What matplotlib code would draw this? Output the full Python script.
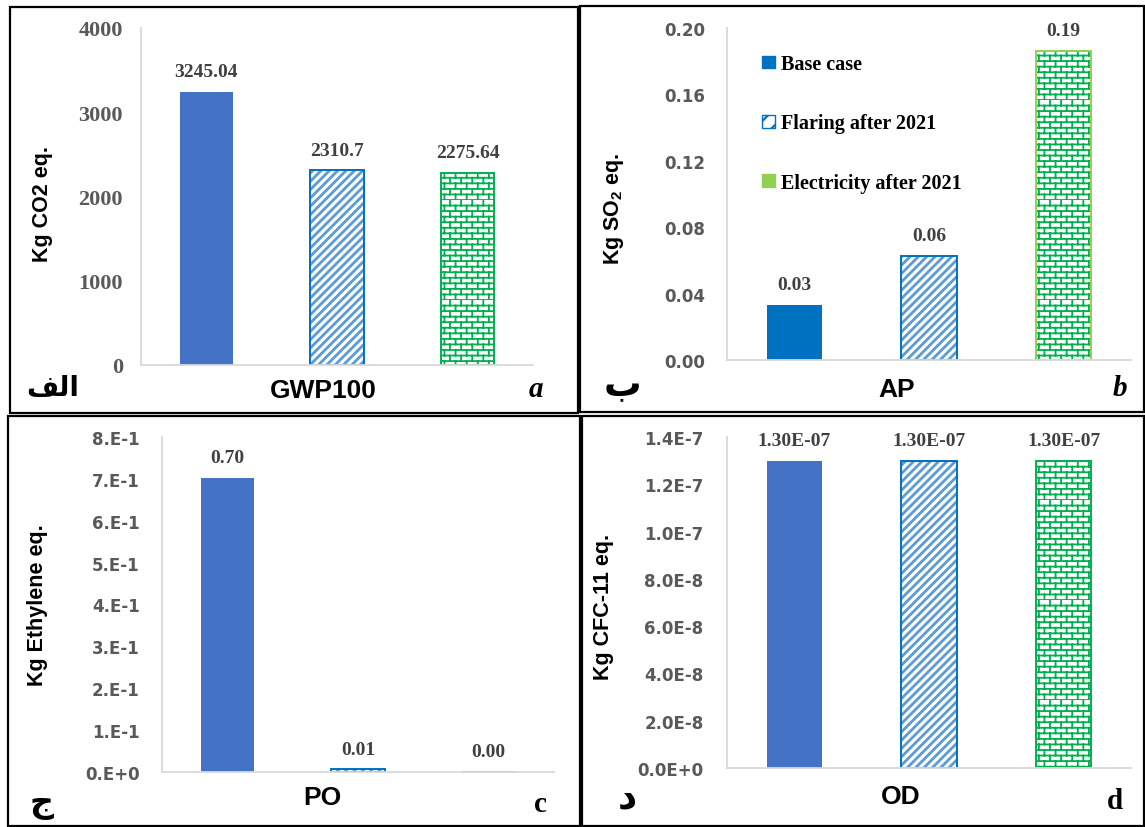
import warnings
import numpy as np
import matplotlib
matplotlib.use('Agg')
import matplotlib.pyplot as plt
from matplotlib import hatch as mhatch
from matplotlib.patches import Rectangle, Patch
from matplotlib.path import Path

warnings.filterwarnings('ignore')

# ---- data ----
scenarios = ['Base case', 'Flaring after 2021', 'Electricity after 2021']

gwp_values = [3245.04, 2310.7, 2275.64]
gwp_labels = ['3245.04', '2310.7', '2275.64']
gwp_ticks = [0, 1000, 2000, 3000, 4000]
gwp_ticklabels = ['0', '1000', '2000', '3000', '4000']

ap_values = [0.033, 0.0625, 0.186]
ap_labels = ['0.03', '0.06', '0.19']
ap_ticks = [0.00, 0.04, 0.08, 0.12, 0.16, 0.20]
ap_ticklabels = ['0.00', '0.04', '0.08', '0.12', '0.16', '0.20']

po_values = [0.702, 0.006, 0.0004]
po_labels = ['0.70', '0.01', '0.00']
po_ticks = [0.0, 0.1, 0.2, 0.3, 0.4, 0.5, 0.6, 0.7, 0.8]
po_ticklabels = ['0.E+0', '1.E-1', '2.E-1', '3.E-1', '4.E-1',
                 '5.E-1', '6.E-1', '7.E-1', '8.E-1']

od_values = [1.30e-7, 1.30e-7, 1.30e-7]
od_labels = ['1.30E-07', '1.30E-07', '1.30E-07']
od_ticks = [0, 2e-8, 4e-8, 6e-8, 8e-8, 1.0e-7, 1.2e-7, 1.4e-7]
od_ticklabels = ['0.0E+0', '2.0E-8', '4.0E-8', '6.0E-8', '8.0E-8',
                 '1.0E-7', '1.2E-7', '1.4E-7']


# brick hatch ('b'), like the Excel brick fill
class BrickHatch(mhatch.HatchPatternBase):
    def __init__(self, hatch, density):
        self.rows = 18 if 'b' in hatch else 0
        self.cols = 9
        self.num_vertices = self.rows * (1 + self.cols) * 2

    def set_vertices_and_codes(self, vertices, codes):
        segs = []
        for k in range(self.rows):
            y0 = k / self.rows
            y1 = (k + 1) / self.rows
            segs.append(((0, y0), (1, y0)))
            shift = 0.5 / self.cols if k % 2 else 0.0
            for j in range(self.cols):
                xv = j / self.cols + shift
                segs.append(((xv, y0), (xv, y1)))
        vertices[:] = np.array(segs, dtype=float).reshape(-1, 2)
        codes[0::2] = Path.MOVETO
        codes[1::2] = Path.LINETO


mhatch._hatch_types.append(BrickHatch)

plt.rcParams['hatch.linewidth'] = 1.6
plt.rcParams['mathtext.fontset'] = 'custom'
plt.rcParams['mathtext.rm'] = 'Liberation Sans:bold'

W, H = 1145, 828
fig = plt.figure(figsize=(W / 100, H / 100), dpi=100)


def fx(px):
    return px / W


def fy(py):
    return 1 - py / H


SERIF = 'Liberation Serif'
SANS = 'Liberation Sans'
FLARE_HATCH = '#5B9BD5'
FLARE_EDGE = '#0070C0'
ELEC = '#00B050'
BW = 0.41


def hatch_lw(bars, lw):
    for b in bars:
        if hasattr(b, 'set_hatch_linewidth'):
            b.set_hatch_linewidth(lw)


def draw_panel(box, values, labels, ticks, ticklabels, ylabel, ylab_x, ylab_y,
               base_color, elec_edge, tick_font, tick_size, tick_pad):
    x0, y0, x1, y1 = box
    ax = fig.add_axes([fx(x0), fy(y1), fx(x1) - fx(x0), fy(y0) - fy(y1)])
    x = np.arange(3)
    ax.bar(x[0], values[0], width=BW, color=base_color, linewidth=0)
    fl = ax.bar(x[1], values[1], width=BW, facecolor='white',
                edgecolor=FLARE_HATCH, hatch='////', linewidth=0)
    hatch_lw(fl, 2.0)
    ax.bar(x[1], values[1], width=BW, facecolor='none', edgecolor=FLARE_EDGE,
           linewidth=1.4)
    el = ax.bar(x[2], values[2], width=BW, facecolor='white', edgecolor=ELEC,
                hatch='b', linewidth=0)
    hatch_lw(el, 1.3)
    ax.bar(x[2], values[2], width=BW, facecolor='none', edgecolor=elec_edge,
           linewidth=1.4)
    for xi, v, lbl in zip(x, values, labels):
        ax.annotate(lbl, (xi, v), xytext=(0, 8.5), textcoords='offset points',
                    ha='center', va='bottom', fontfamily=SERIF,
                    fontweight='bold', fontsize=14, color='#404040')
    ax.set_xlim(-0.5, 2.5)
    ax.set_ylim(0, ticks[-1])
    ax.set_xticks([])
    ax.set_yticks(ticks)
    ax.set_yticklabels(ticklabels, fontfamily=tick_font, fontweight='bold',
                       fontsize=tick_size, color='#595959')
    ax.tick_params(axis='y', length=0, pad=tick_pad)
    for s in ['top', 'right']:
        ax.spines[s].set_visible(False)
    for s in ['left', 'bottom']:
        ax.spines[s].set_color('#D9D9D9')
        ax.spines[s].set_linewidth(1.3)
    ax.set_ylabel(ylabel, fontfamily=SANS, fontweight='bold', fontsize=15.5,
                  color='black')
    ax.yaxis.set_label_coords(ylab_x, ylab_y)
    return ax


draw_panel((141, 29, 533, 366), gwp_values, gwp_labels, gwp_ticks,
           gwp_ticklabels, 'Kg CO2 eq.', -0.225, 0.48,
           '#4472C4', ELEC, SERIF, 16, 13)
ax_b = draw_panel((727, 29, 1131, 361), ap_values, ap_labels, ap_ticks,
                  ap_ticklabels, 'Kg SO$_\\mathrm{2}$ eq.', -0.25, 0.46,
                  '#0070C0', '#92D050', 'DejaVu Sans', 12, 16)
draw_panel((162, 438, 554, 773), po_values, po_labels, po_ticks,
           po_ticklabels, 'Kg Ethylene eq.', -0.29, 0.5,
           '#4472C4', ELEC, 'DejaVu Sans', 12, 16)
draw_panel((727, 438, 1131, 769), od_values, od_labels, od_ticks,
           od_ticklabels, 'Kg CFC-11 eq.', -0.28, 0.49,
           '#4472C4', ELEC, 'DejaVu Sans', 12, 17)

# legend in panel b
handles = [Patch(facecolor='#0070C0', edgecolor='#0070C0'),
           Patch(facecolor='white', edgecolor=FLARE_EDGE, hatch='//'),
           Patch(facecolor='#92D050', edgecolor='#92D050')]
ax_b.legend(handles, scenarios, loc='upper left', bbox_to_anchor=(0.043, 0.976),
            frameon=False, handlelength=0.6, handleheight=0.6,
            handletextpad=0.3, labelspacing=1.95,
            prop={'family': SERIF, 'weight': 'bold', 'size': 14.5})

# axis category names
for txt, px, py in [('GWP100', 323, 391), ('AP', 897, 390),
                    ('PO', 322, 798), ('OD', 901, 797)]:
    fig.text(fx(px), fy(py), txt, ha='center', va='center', fontfamily=SANS,
             fontweight='bold', fontsize=19)

# panel letters
for txt, px, py, style in [('a', 536, 390, 'italic'), ('b', 1120, 388, 'italic'),
                           ('c', 540, 805, 'normal'), ('d', 1115, 802, 'normal')]:
    fig.text(fx(px), fy(py), txt, ha='center', va='center', fontfamily=SERIF,
             fontweight='bold', fontstyle=style, fontsize=21)

# arabic panel letters (presentation forms, drawn left to right)
for txt, px, py, size in [('\uFED2\uFEDF\uFE8D', 53, 388, 20),
                          ('\uFE8F', 622, 386, 27),
                          ('\uFE9D', 42, 804, 24), ('\uFEA9', 627, 798, 27)]:
    fig.text(fx(px), fy(py), txt, ha='center', va='center',
             fontfamily='DejaVu Sans', fontweight='bold', fontsize=size)

# panel frames
for (x0, y0, x1, y1) in [(10, 8, 578, 414), (580, 7, 1144, 413),
                         (8, 417, 580, 827), (582, 417, 1144, 827)]:
    fig.add_artist(Rectangle((fx(x0), fy(y1)), fx(x1) - fx(x0), fy(y0) - fy(y1),
                             transform=fig.transFigure, fill=False,
                             edgecolor='black', linewidth=1.6))

fig.savefig('out.png', dpi=100)
